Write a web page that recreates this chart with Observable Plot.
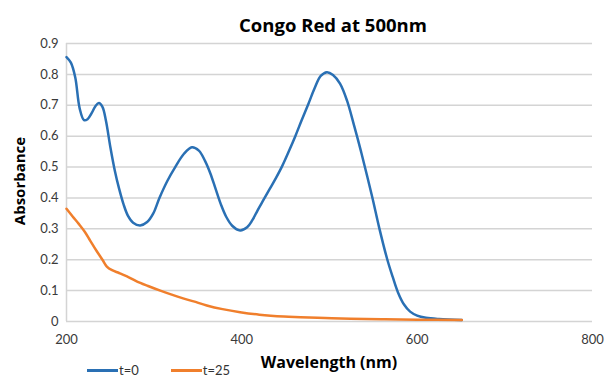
<!DOCTYPE html>
<html>
<head>
<meta charset="utf-8">
<script src="https://cdn.jsdelivr.net/npm/d3@7"></script>
<script src="https://cdn.jsdelivr.net/npm/@observablehq/plot@0.6"></script>
<style>
  body { margin: 0; background: #fff; }
  #wrap { position: relative; width: 605px; height: 378px; overflow: hidden; font-family: Lato, "Open Sans", sans-serif; color: #000; }
  #wrap svg { position: absolute; left: 0; top: 0; }
  .title { position: absolute; top: 12px; left: 333px; transform: translateX(-50%); font-family: "Open Sans", sans-serif; font-weight: 700; font-size: 18.5px; line-height: normal; white-space: nowrap; }
  .xlabel { position: absolute; top: 351px; left: 329px; transform: translateX(-50%); font-family: "Open Sans", sans-serif; font-weight: 700; font-size: 16px; line-height: normal; white-space: nowrap; }
  .ylabel { position: absolute; top: 181px; left: 19px; transform: translate(-50%, -50%) rotate(-90deg); font-family: "Open Sans", sans-serif; font-weight: 700; font-size: 15px; line-height: normal; white-space: nowrap; }
  .legend { position: absolute; top: 362px; left: 87px; display: flex; align-items: center; font-size: 13px; line-height: 16px; color: #333; white-space: nowrap; }
  .legend .sw { display: inline-block; width: 31px; height: 3px; margin-right: 1px; }
  .legend .item { display: flex; align-items: center; margin-right: 32px; }
</style>
</head>
<body>
<div id="wrap">
  <div class="title"></div>
  <div class="xlabel"></div>
  <div class="ylabel"></div>
  <div class="legend" id="legend"></div>
</div>
<script>
const chartTitle = "Congo Red at 500nm";
const xTitle = "Wavelength (nm)";
const yTitle = "Absorbance";
const seriesNames = ["t=0", "t=25"];
const seriesColors = ["#2a70b4", "#f07f2c"];

const xTicks = [200, 400, 600, 800];
const yTicks = [0, 0.1, 0.2, 0.3, 0.4, 0.5, 0.6, 0.7, 0.8, 0.9];
const yTickLabels = ["0", "0.1", "0.2", "0.3", "0.4", "0.5", "0.6", "0.7", "0.8", "0.9"];

// t=0 spectrum
const t0Wavelength = [200, 205, 210, 215, 220, 224, 229, 233, 237, 241, 245, 250, 255, 260, 265, 270, 276, 284, 292, 299, 306, 315, 324, 334, 343, 351, 358, 364, 370, 376, 382, 389, 398, 406, 412, 418, 425, 432, 439, 446, 453, 461, 468, 476, 483, 490, 497, 504, 512, 520, 528, 536, 543, 549, 557, 566, 572, 578, 585, 592, 600, 610, 625, 651];
const t0Absorbance = [0.856, 0.838, 0.79, 0.69, 0.652, 0.655, 0.676, 0.697, 0.707, 0.695, 0.65, 0.565, 0.49, 0.43, 0.38, 0.343, 0.32, 0.311, 0.322, 0.35, 0.40, 0.455, 0.50, 0.543, 0.564, 0.553, 0.52, 0.48, 0.43, 0.38, 0.34, 0.31, 0.295, 0.305, 0.328, 0.36, 0.395, 0.43, 0.465, 0.503, 0.547, 0.60, 0.65, 0.705, 0.755, 0.795, 0.807, 0.798, 0.77, 0.715, 0.635, 0.55, 0.47, 0.40, 0.30, 0.20, 0.145, 0.095, 0.055, 0.032, 0.019, 0.012, 0.008, 0.005];

// t=25 spectrum
const t25Wavelength = [200, 207, 214, 221, 227, 234, 241, 246, 252, 260, 269, 280, 293, 307, 320, 333, 345, 360, 378, 398, 420, 448, 467, 495, 524, 560, 600, 651];
const t25Absorbance = [0.365, 0.34, 0.316, 0.29, 0.262, 0.23, 0.20, 0.178, 0.166, 0.157, 0.146, 0.13, 0.115, 0.10, 0.087, 0.075, 0.065, 0.052, 0.04, 0.03, 0.022, 0.016, 0.014, 0.011, 0.009, 0.007, 0.006, 0.005];

const data = [
  ...t0Wavelength.map((w, i) => ({series: seriesNames[0], wavelength: w, absorbance: t0Absorbance[i]})),
  ...t25Wavelength.map((w, i) => ({series: seriesNames[1], wavelength: w, absorbance: t25Absorbance[i]}))
];

const chart = Plot.plot({
  width: 605,
  height: 378,
  marginTop: 43,
  marginBottom: 57,
  marginLeft: 66,
  marginRight: 13,
  style: {fontFamily: "Lato, 'Open Sans', sans-serif", background: "transparent"},
  x: {domain: [200, 800]},
  y: {domain: [0, 0.9]},
  color: {domain: seriesNames, range: seriesColors},
  marks: [
    Plot.gridY(yTicks, {stroke: "#d4d4d4", strokeOpacity: 1, strokeWidth: 1.5}),
    Plot.ruleX([200], {stroke: "#d4d4d4", strokeWidth: 1.5}),
    Plot.axisY({ticks: yTicks, tickFormat: d => yTickLabels[yTicks.indexOf(d)], tickSize: 0, tickPadding: 8, fontSize: 13, fill: "#3a3a3a", label: null}),
    Plot.axisX({ticks: xTicks, tickFormat: d => String(d), tickSize: 0, tickPadding: 13, fontSize: 13, fill: "#3a3a3a", label: null}),
    Plot.line(data, {x: "wavelength", y: "absorbance", z: "series", stroke: "series", strokeWidth: 2.5, curve: "catmull-rom"})
  ]
});
const wrap = document.getElementById("wrap");
wrap.insertBefore(chart, wrap.firstChild);

const legend = document.getElementById("legend");
seriesNames.forEach((name, i) => {
  const item = document.createElement("span");
  item.className = "item";
  const sw = document.createElement("span");
  sw.className = "sw";
  sw.style.background = seriesColors[i];
  item.appendChild(sw);
  item.appendChild(document.createTextNode(name));
  legend.appendChild(item);
});
document.querySelector(".title").textContent = chartTitle;
document.querySelector(".xlabel").textContent = xTitle;
document.querySelector(".ylabel").textContent = yTitle;
</script>
</body>
</html>
